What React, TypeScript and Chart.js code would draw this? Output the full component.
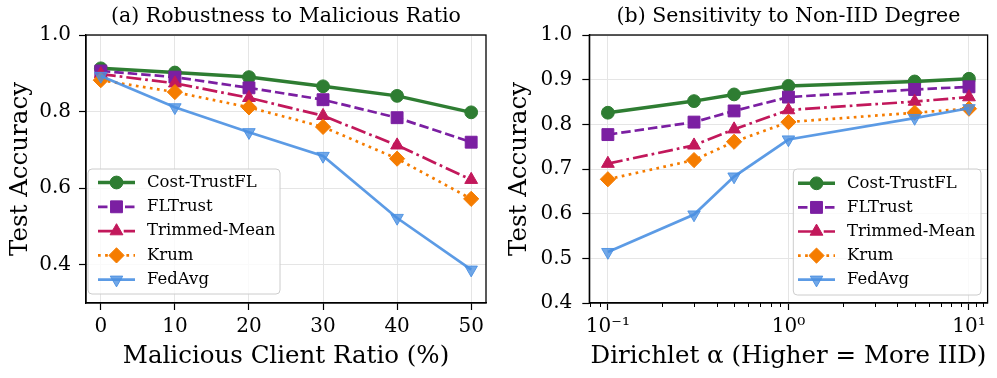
import React, { useEffect, useRef } from 'react';
import { Chart, registerables } from 'chart.js';
import { drawPoint } from 'chart.js/helpers';

Chart.register(...registerables);

const FONT = 'DejaVu Serif';

// ---------- data ----------
const seriesNames = ['Cost-TrustFL', 'FLTrust', 'Trimmed-Mean', 'Krum', 'FedAvg'];

// (a) Malicious client ratio (%)
const ratioValues = [0, 10, 20, 30, 40, 50];
const ratioCostTrustFL = [0.913, 0.902, 0.890, 0.866, 0.841, 0.798];
const ratioFLTrust = [0.906, 0.890, 0.862, 0.831, 0.784, 0.720];
const ratioTrimmedMean = [0.898, 0.874, 0.836, 0.789, 0.712, 0.622];
const ratioKrum = [0.882, 0.851, 0.811, 0.760, 0.677, 0.572];
const ratioFedAvg = [0.893, 0.811, 0.746, 0.684, 0.522, 0.387];
const ratioXTicks = [0, 10, 20, 30, 40, 50];
const ratioYTicks = [0.4, 0.6, 0.8, 1.0];

// (b) Dirichlet alpha
const alphaValues = [0.1, 0.3, 0.5, 1, 5, 10];
const alphaCostTrustFL = [0.826, 0.852, 0.867, 0.886, 0.896, 0.902];
const alphaFLTrust = [0.777, 0.805, 0.830, 0.861, 0.878, 0.884];
const alphaTrimmedMean = [0.712, 0.753, 0.789, 0.832, 0.851, 0.861];
const alphaKrum = [0.677, 0.720, 0.761, 0.805, 0.826, 0.835];
const alphaFedAvg = [0.514, 0.598, 0.683, 0.766, 0.814, 0.836];
const alphaMajorTicks = [0.1, 1, 10];
const alphaTickLabels = ['10\u207B\u00B9', '10\u2070', '10\u00B9'];
const alphaMinorTicks = [0.08, 0.09, 0.2, 0.3, 0.4, 0.5, 0.6, 0.7, 0.8, 0.9, 2, 3, 4, 5, 6, 7, 8, 9, 11, 12];
const alphaYTicks = [0.4, 0.5, 0.6, 0.7, 0.8, 0.9, 1.0];

// ---------- styles ----------
const seriesStyles = [
  { color: '#2e7d32', fill: '#2e7d32', width: 3.5, dash: [] as number[], point: 'circle', radius: 6.4, rotation: 0 },
  { color: '#7b1fa2', fill: '#7b1fa2', width: 2.7, dash: [9.5, 4], point: 'rect', radius: 8.4, rotation: 0 },
  { color: '#c2185b', fill: '#c2185b', width: 2.7, dash: [15, 4, 2.7, 4], point: 'triangle', radius: 7.4, rotation: 0 },
  { color: '#f57c00', fill: '#f57c00', width: 2.7, dash: [2.7, 4.4], point: 'rectRot', radius: 7.6, rotation: 0 },
  { color: 'rgba(74,144,226,0.9)', fill: 'rgba(74,144,226,0.78)', width: 2.7, dash: [] as number[], point: 'triangle', radius: 7.2, rotation: 180 },
];

function buildDatasets(xs: number[], series: number[][]) {
  return series.map((vals, i) => {
    const s = seriesStyles[i];
    return {
      label: seriesNames[i],
      data: xs.map((x, j) => ({ x, y: vals[j] })),
      borderColor: s.color,
      backgroundColor: s.fill,
      borderWidth: s.width,
      borderDash: s.dash,
      pointStyle: s.point,
      pointRadius: s.radius,
      pointRotation: s.rotation,
      pointBackgroundColor: s.fill,
      pointBorderColor: s.color,
      pointBorderWidth: 1,
      tension: 0,
      fill: false,
      clip: false as any,
      order: series.length - 1 - i,
    };
  });
}

const decorPlugin = {
  id: 'decor',
  afterDraw(chart: any, _args: any, opts: any) {
    const { ctx, chartArea } = chart;
    const { left, right, top, bottom } = chartArea;
    ctx.save();
    // minor ticks on x axis
    if (opts.minorTicks) {
      const xs = chart.scales.x;
      ctx.strokeStyle = '#000';
      ctx.lineWidth = 1;
      opts.minorTicks.forEach((v: number) => {
        const px = xs.getPixelForValue(v);
        if (px < left - 0.5 || px > right + 0.5) return;
        ctx.beginPath();
        ctx.moveTo(Math.round(px) + 0.5, bottom);
        ctx.lineTo(Math.round(px) + 0.5, bottom + 4);
        ctx.stroke();
      });
    }
    // spines
    ctx.strokeStyle = '#000';
    ctx.lineWidth = 1.3;
    ctx.strokeRect(left, top, right - left, bottom - top);
    // title
    ctx.fillStyle = '#000';
    ctx.font = `20.5px "${FONT}"`;
    ctx.textAlign = 'center';
    ctx.textBaseline = 'middle';
    ctx.fillText(opts.title, (left + right) / 2, 17);
    // legend
    const L = opts.legend;
    ctx.beginPath();
    const r = 4;
    ctx.moveTo(L.x + r, L.y);
    ctx.arcTo(L.x + L.w, L.y, L.x + L.w, L.y + L.h, r);
    ctx.arcTo(L.x + L.w, L.y + L.h, L.x, L.y + L.h, r);
    ctx.arcTo(L.x, L.y + L.h, L.x, L.y, r);
    ctx.arcTo(L.x, L.y, L.x + L.w, L.y, r);
    ctx.closePath();
    ctx.fillStyle = 'rgba(255,255,255,0.8)';
    ctx.fill();
    ctx.strokeStyle = '#cccccc';
    ctx.lineWidth = 1;
    ctx.stroke();
    chart.data.datasets.forEach((ds: any, i: number) => {
      const y = L.rowY + i * L.rowStep;
      ctx.save();
      ctx.strokeStyle = ds.borderColor;
      ctx.lineWidth = ds.borderWidth;
      ctx.setLineDash(ds.borderDash || []);
      ctx.beginPath();
      ctx.moveTo(L.hx0, y);
      ctx.lineTo(L.hx1, y);
      ctx.stroke();
      ctx.setLineDash([]);
      ctx.fillStyle = ds.pointBackgroundColor;
      ctx.strokeStyle = ds.pointBorderColor;
      ctx.lineWidth = ds.pointBorderWidth;
      drawPoint(ctx, { pointStyle: ds.pointStyle, rotation: ds.pointRotation, radius: ds.pointRadius, borderWidth: ds.pointBorderWidth } as any, (L.hx0 + L.hx1) / 2, y);
      ctx.restore();
      ctx.fillStyle = '#000';
      ctx.font = `16.5px "${FONT}"`;
      ctx.textAlign = 'left';
      ctx.textBaseline = 'middle';
      ctx.fillText(ds.label, L.textX, y);
    });
    ctx.restore();
  },
};

function makeOptions(p: any) {
  return {
    responsive: false,
    animation: false as const,
    devicePixelRatio: 1,
    layout: { padding: { left: 0, right: p.padRight, top: 35, bottom: 0 } },
    plugins: {
      legend: { display: false },
      title: { display: false },
      tooltip: { enabled: false },
      decor: { title: p.title, legend: p.legend, minorTicks: p.minorTicks },
    },
    scales: {
      x: {
        type: p.xType,
        min: p.xMin,
        max: p.xMax,
        afterFit: (s: any) => { s.height = 75; },
        afterBuildTicks: (s: any) => { s.ticks = p.xTicks.map((v: number) => ({ value: v, major: true })); },
        ticks: {
          autoSkip: false,
          maxRotation: 0,
          padding: 5,
          color: '#000',
          font: { family: FONT, size: 20 },
          callback: (_v: any, i: number) => p.xLabels[i],
        },
        grid: { color: '#e5e5e5', lineWidth: 1, drawTicks: true, tickLength: 7, tickColor: '#000', tickWidth: 1.2 },
        border: { display: true, color: '#000', width: 1.3 },
        title: { display: true, text: p.xTitle, color: '#000', font: { family: FONT, size: 24.5 }, padding: { top: 0, bottom: 7 } },
      },
      y: {
        type: 'linear',
        min: p.yMin,
        max: 1.0,
        afterFit: (s: any) => { s.width = p.yWidth; },
        afterBuildTicks: (s: any) => { s.ticks = p.yTicks.map((v: number) => ({ value: v })); },
        ticks: {
          autoSkip: false,
          padding: p.yPad,
          color: '#000',
          font: { family: FONT, size: 20 },
          callback: (v: any) => Number(v).toFixed(1),
        },
        grid: { color: '#e5e5e5', lineWidth: 1, drawTicks: true, tickLength: 7, tickColor: '#000', tickWidth: 1.2 },
        border: { display: true, color: '#000', width: 1.3 },
        title: { display: true, text: 'Test Accuracy', color: '#000', font: { family: FONT, size: 24.5 }, padding: { top: p.yTitlePad, bottom: 0 } },
      },
    },
  } as any;
}

export default function App() {
  const leftRef = useRef<HTMLCanvasElement>(null);
  const rightRef = useRef<HTMLCanvasElement>(null);

  useEffect(() => {
    const c1 = new Chart(leftRef.current as HTMLCanvasElement, {
      type: 'line',
      data: {
        datasets: buildDatasets(ratioValues, [ratioCostTrustFL, ratioFLTrust, ratioTrimmedMean, ratioKrum, ratioFedAvg]) as any,
      },
      options: makeOptions({
        padRight: 11,
        title: '(a) Robustness to Malicious Ratio',
        legend: { x: 88, y: 169, w: 192, h: 125, rowY: 182.5, rowStep: 24.3, hx0: 98, hx1: 135, textX: 147 },
        minorTicks: null,
        xType: 'linear',
        xMin: -2,
        xMax: 52,
        xTicks: ratioXTicks,
        xLabels: ratioXTicks.map(String),
        xTitle: 'Malicious Client Ratio (%)',
        yMin: 0.3,
        yTicks: ratioYTicks,
        yWidth: 86,
        yPad: 8,
        yTitlePad: 6,
      }),
      plugins: [decorPlugin],
    });
    const c2 = new Chart(rightRef.current as HTMLCanvasElement, {
      type: 'line',
      data: {
        datasets: buildDatasets(alphaValues, [alphaCostTrustFL, alphaFLTrust, alphaTrimmedMean, alphaKrum, alphaFedAvg]) as any,
      },
      options: makeOptions({
        padRight: 7.3,
        title: '(b) Sensitivity to Non-IID Degree',
        legend: { x: 296.3, y: 169, w: 187.7, h: 126, rowY: 183.3, rowStep: 24.1, hx0: 301, hx1: 338, textX: 350 },
        minorTicks: alphaMinorTicks,
        xType: 'logarithmic',
        xMin: 0.0789,
        xMax: 12.68,
        xTicks: alphaMajorTicks,
        xLabels: alphaTickLabels,
        xTitle: 'Dirichlet \u03B1 (Higher = More IID)',
        yMin: 0.4,
        yTicks: alphaYTicks,
        yWidth: 92.3,
        yPad: 10,
        yTitlePad: 8,
      }),
      plugins: [decorPlugin],
    });
    return () => {
      c1.destroy();
      c2.destroy();
    };
  }, []);

  return (
    <div style={{ position: 'fixed', left: 0, top: 0, width: 997, height: 378, background: '#fff' }}>
      <canvas ref={leftRef} width={497} height={378} style={{ position: 'absolute', left: 0, top: 0, width: 497, height: 378 }} />
      <canvas ref={rightRef} width={500} height={378} style={{ position: 'absolute', left: 497, top: 0, width: 500, height: 378 }} />
    </div>
  );
}
